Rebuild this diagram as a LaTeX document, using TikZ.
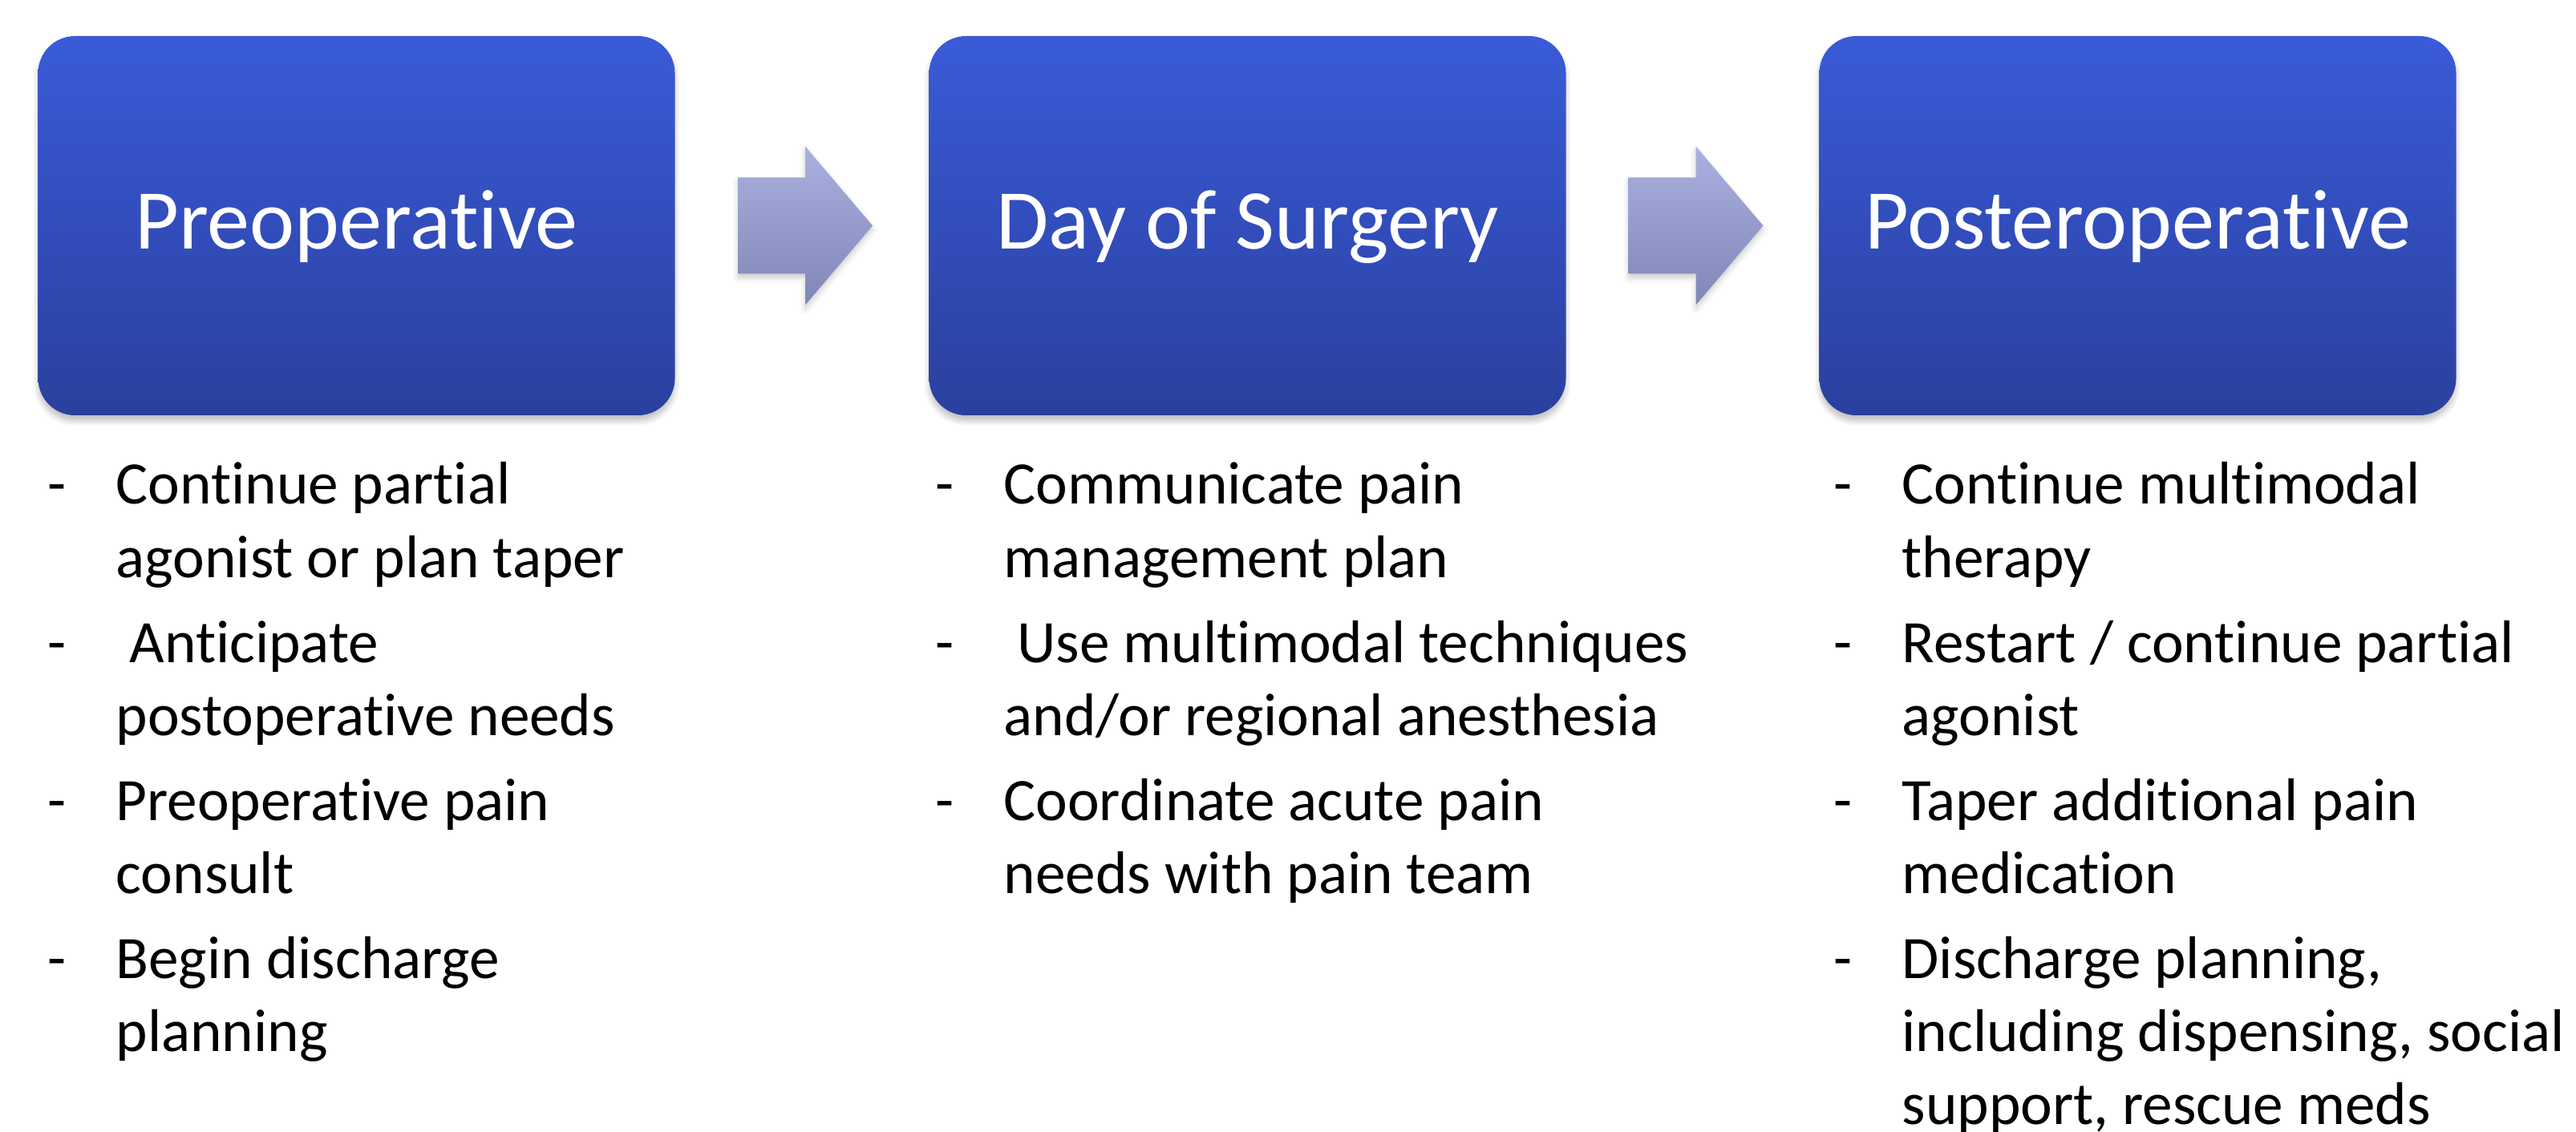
\documentclass[tikz,border=0pt]{standalone}
\usepackage{fontspec}
\setmainfont{Carlito}[RawFeature={-liga;-dlig;-calt}]
\usepackage{array}
\usetikzlibrary{calc,shadows.blur}

\definecolor{boxtop}{RGB}{58,91,216}
\definecolor{boxbottom}{RGB}{42,64,158}
\definecolor{arrowtop}{RGB}{170,177,225}
\definecolor{arrowbottom}{RGB}{128,135,182}

\tikzset{
  phase/.style={rectangle, rounded corners=0.46cm, minimum width=7.94cm, minimum height=4.73cm,
    top color=boxtop, bottom color=boxbottom, text=white, text height=0.8cm, text depth=0.21cm,
    font=\fontsize{30.2}{36}\selectfont,
    blur shadow={shadow xshift=0pt, shadow yshift=-0.07cm, shadow blur steps=6, shadow opacity=25}},
  steplist/.style={inner sep=0pt, anchor=base west, font=\fontsize{21.4}{25.9}\selectfont},
  blockarrow/.style={top color=arrowtop, bottom color=arrowbottom,
    blur shadow={shadow xshift=0pt, shadow yshift=-0.05cm, shadow blur steps=5, shadow opacity=20}}
}

\begin{document}
\begin{tikzpicture}[scale=1]

\useasboundingbox (0,0) rectangle (32.12,-14.12);

% Phases
  \node[phase] (pre)  at (4.445,-2.815)  {Preoperative};
  \node[phase] (day)  at (15.555,-2.815) {Day of Surgery};
  \node[phase] (post) at (26.655,-2.815) {Posteroperative};

% Block arrows between the phases
  \foreach \a/\b in {pre/day, day/post}
    \shade[blockarrow] ($(\a.east)!0.5!(\b.west)+(-0.80,0.6)$) -- ++(0.84,0) -- ++(0,0.39)
      -- ++(0.84,-0.99) -- ++(-0.84,-0.99) -- ++(0,0.39) -- ++(-0.84,0) -- cycle;

% What to do in each phase
  \node[steplist] (prelist) at (0.59,-6.29) {%
    \begin{tabular}[t]{@{}p{0.85cm}@{}l@{}}
    - & Continue partial\\
      & agonist or plan taper\\[0.15cm]
    - & \ Anticipate\\
      & postoperative needs\\[0.15cm]
    - & Preoperative pain\\
      & consult\\[0.15cm]
    - & Begin discharge\\
      & planning
    \end{tabular}};

  \node[steplist] (daylist) at (11.66,-6.29) {%
    \begin{tabular}[t]{@{}p{0.85cm}@{}l@{}}
    - & Communicate pain\\
      & management plan\\[0.15cm]
    - & \ Use multimodal techniques\\
      & and/or regional anesthesia\\[0.15cm]
    - & Coordinate acute pain\\
      & needs with pain team
    \end{tabular}};

  \node[steplist] (postlist) at (22.86,-6.29) {%
    \begin{tabular}[t]{@{}p{0.85cm}@{}l@{}}
    - & Continue multimodal\\
      & therapy\\[0.15cm]
    - & Restart / continue partial\\
      & agonist\\[0.15cm]
    - & Taper additional pain\\
      & medication\\[0.15cm]
    - & Discharge planning,\\
      & including dispensing, social\\
      & support, rescue meds
    \end{tabular}};

\end{tikzpicture}
\end{document}
